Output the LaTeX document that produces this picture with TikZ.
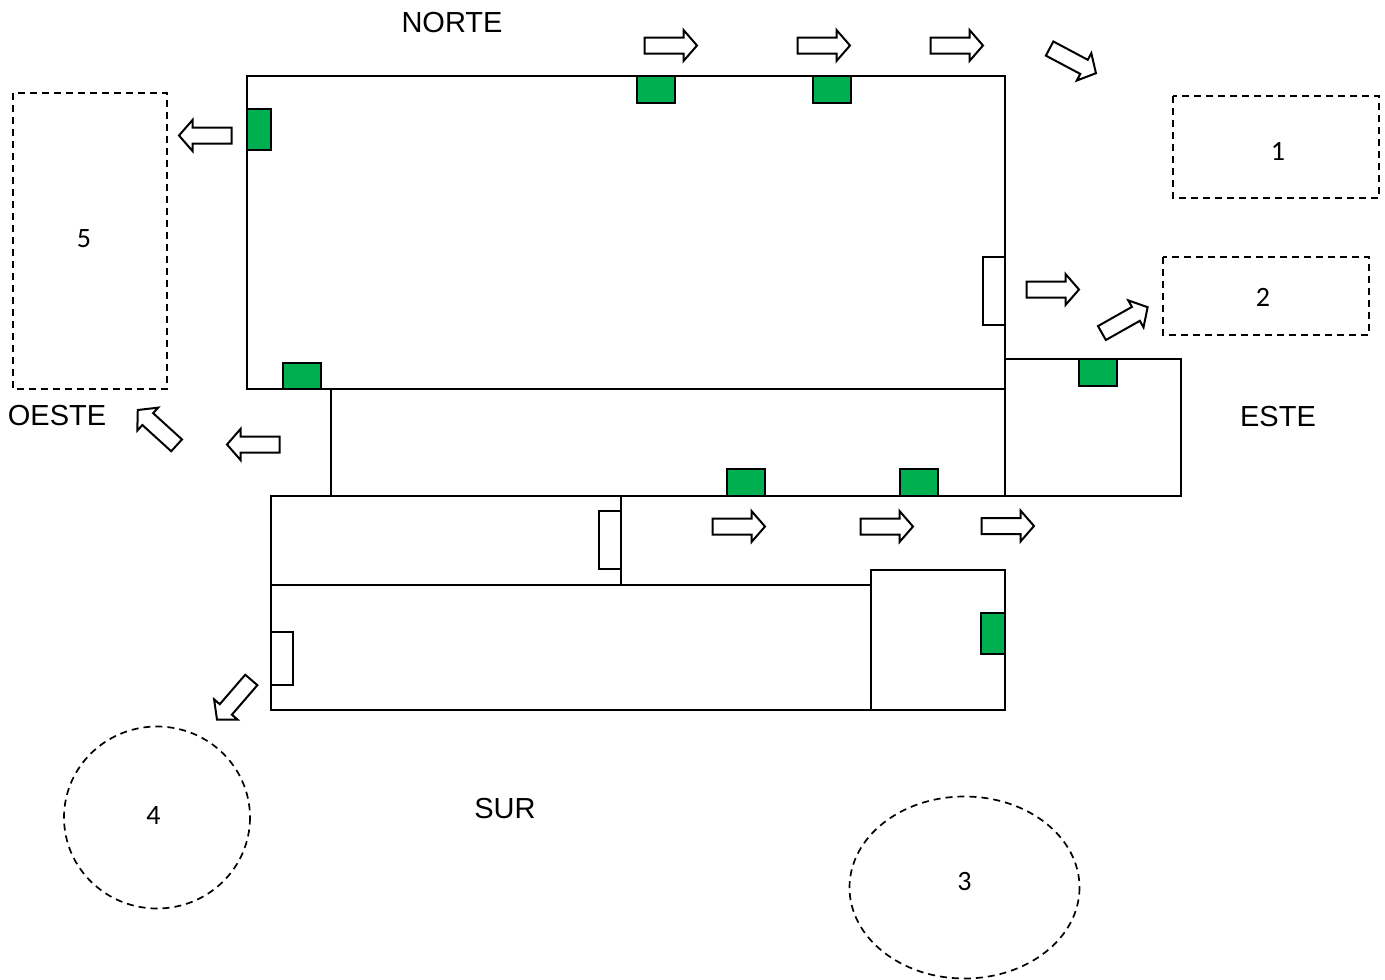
\documentclass[tikz,border=0pt]{standalone}
\usepackage{fontspec}
\setmainfont{Liberation Sans}
\newfontfamily\numfont{Carlito}
\definecolor{doorgreen}{HTML}{00B050}
\tikzset{
  wall/.style={draw=black,line width=2pt,line join=miter},
  door/.style={draw=black,fill=white,line width=2pt},
  gate/.style={draw=black,fill=doorgreen,line width=2pt},
  zone/.style={draw=black,line width=1.7pt,dash pattern=on 7pt off 5pt},
  flow/.style={draw=black,fill=white,line width=2pt,line join=miter},
  side/.style={font=\fontsize{29}{32}\selectfont,inner sep=0pt,anchor=center},
  num/.style={font=\numfont\fontsize{28}{32}\selectfont,inner sep=0pt,anchor=center}
}
\newcommand{\blockarrow}[3]{%
  \draw[flow,shift={(#1,#2)},rotate=#3]
    (-26.5,-8) -- (12.5,-8) -- (12.5,-15.5) -- (26,0) -- (12.5,15.5) -- (12.5,8) -- (-26.5,8) -- cycle;}
\begin{document}
\begin{tikzpicture}[x=1pt,y=-1pt]
\useasboundingbox (0,0) rectangle (1385,980);
% building
\draw[wall] (247,76) rectangle (1005,389);
\draw[wall] (331,389) -- (331,496) -- (1005,496);
\draw[wall] (1005,359) rectangle (1181,496);
\draw[wall] (271,496) rectangle (621,585);
\draw[wall] (271,585) rectangle (871,710);
\draw[wall] (871,570) rectangle (1005,710);
% white doors
\draw[door] (983,257) rectangle (1005,325);
\draw[door] (599,511) rectangle (621,569);
\draw[door] (271,632) rectangle (293,685);
% green doors
\draw[gate] (637,76) rectangle (675,103);
\draw[gate] (813,76) rectangle (851,103);
\draw[gate] (247,109) rectangle (271,150);
\draw[gate] (283,363) rectangle (321,389);
\draw[gate] (1079,359) rectangle (1117,386);
\draw[gate] (727,469) rectangle (765,496);
\draw[gate] (900,469) rectangle (938,496);
\draw[gate] (981,613) rectangle (1005,654);
% zones
\draw[zone] (13,93) rectangle (167,389);
\draw[zone] (1173,96) rectangle (1379,198);
\draw[zone] (1163,257) rectangle (1369,335);
\draw[zone] (157,817.5) ellipse [x radius=93,y radius=91];
\draw[zone] (964.5,887.5) ellipse [x radius=115,y radius=91];
% flow arrows
\blockarrow{671}{45.5}{0}
\blockarrow{824}{45.5}{0}
\blockarrow{957}{45.5}{0}
\blockarrow{1073}{61}{-28}
\blockarrow{1053}{289.5}{0}
\blockarrow{1125}{320}{29.5}
\blockarrow{205}{135.5}{180}
\blockarrow{253}{444.5}{180}
\blockarrow{157}{427.5}{137.7}
\blockarrow{234}{700}{229.2}
\blockarrow{739}{526.5}{0}
\blockarrow{887}{526.5}{0}
\blockarrow{1008}{526}{0}
% labels
\node[side] (norte) at (452,23) {NORTE};
\node[side] (oeste) at (57,416) {OESTE};
\node[side] (este) at (1278,417) {ESTE};
\node[side] (sur) at (505,809) {SUR};
\node[num] (z1) at (1278,151) {1};
\node[num] (z2) at (1263,297) {2};
\node[num] (z3) at (964.5,881.5) {3};
\node[num] (z4) at (153.5,815.5) {4};
\node[num] (z5) at (84,238.5) {5};
\end{tikzpicture}
\end{document}
